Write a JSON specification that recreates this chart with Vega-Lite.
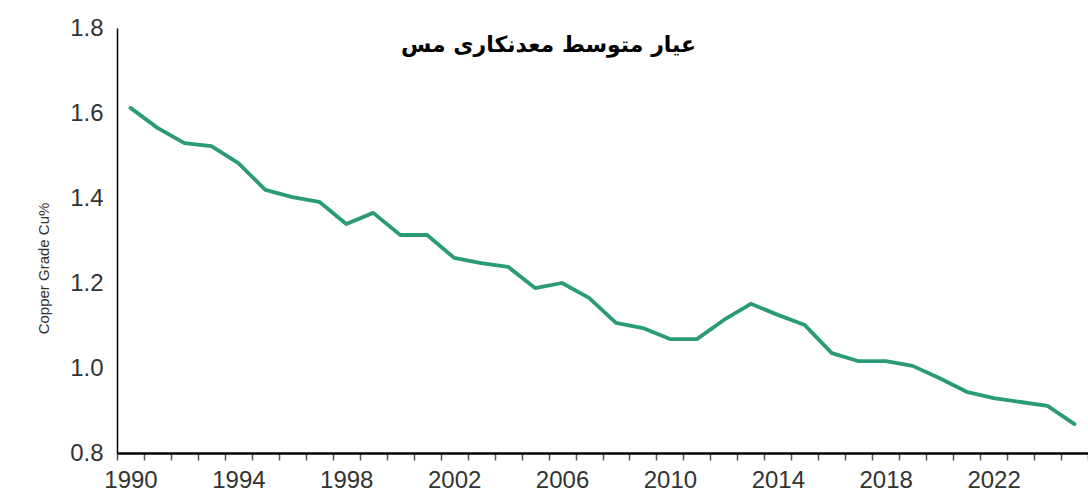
{
  "$schema": "https://vega.github.io/schema/vega-lite/v6.json",
  "width": 971,
  "height": 425,
  "autosize": {"type": "none"},
  "padding": {"left": 117, "top": 28, "right": 0, "bottom": 39},
  "background": "white",
  "title": {
    "text": "عیار متوسط معدنکاری مس",
    "font": "DejaVu Sans",
    "fontSize": 22,
    "fontWeight": "bold",
    "color": "#000000",
    "anchor": "middle",
    "frame": "group",
    "baseline": "alphabetic",
    "offset": -58,
    "dx": -54
  },
  "data": {
    "values": [
      {"year": 1990, "grade": 1.612},
      {"year": 1991, "grade": 1.565},
      {"year": 1992, "grade": 1.529},
      {"year": 1993, "grade": 1.522},
      {"year": 1994, "grade": 1.482},
      {"year": 1995, "grade": 1.419},
      {"year": 1996, "grade": 1.402},
      {"year": 1997, "grade": 1.391},
      {"year": 1998, "grade": 1.339},
      {"year": 1999, "grade": 1.365},
      {"year": 2000, "grade": 1.313},
      {"year": 2001, "grade": 1.313},
      {"year": 2002, "grade": 1.259},
      {"year": 2003, "grade": 1.247},
      {"year": 2004, "grade": 1.238},
      {"year": 2005, "grade": 1.188},
      {"year": 2006, "grade": 1.200},
      {"year": 2007, "grade": 1.165},
      {"year": 2008, "grade": 1.106},
      {"year": 2009, "grade": 1.094},
      {"year": 2010, "grade": 1.068},
      {"year": 2011, "grade": 1.068},
      {"year": 2012, "grade": 1.113},
      {"year": 2013, "grade": 1.151},
      {"year": 2014, "grade": 1.125},
      {"year": 2015, "grade": 1.101},
      {"year": 2016, "grade": 1.035},
      {"year": 2017, "grade": 1.016},
      {"year": 2018, "grade": 1.016},
      {"year": 2019, "grade": 1.005},
      {"year": 2020, "grade": 0.976},
      {"year": 2021, "grade": 0.944},
      {"year": 2022, "grade": 0.929},
      {"year": 2023, "grade": 0.920},
      {"year": 2024, "grade": 0.911},
      {"year": 2025, "grade": 0.868}
    ]
  },
  "mark": {"type": "line", "color": "#2a9a79", "strokeWidth": 3.8, "strokeJoin": "round", "strokeCap": "round"},
  "encoding": {
    "x": {
      "field": "year",
      "type": "ordinal",
      "bandPosition": 0.5,
      "scale": {"type": "band", "paddingInner": 0, "paddingOuter": 0},
      "axis": {
        "title": null,
        "labelAngle": 0,
        "labelExpr": "datum.value % 4 == 2 ? datum.label : ''",
        "labelOverlap": false,
        "labelFont": "Liberation Sans",
        "labelFontSize": 24,
        "labelColor": "#333333",
        "labelPadding": 8,
        "tickBand": "extent",
        "tickSize": 7,
        "tickWidth": 1.5,
        "tickColor": "#555555",
        "domainColor": "#000000",
        "domainWidth": 2.5,
        "grid": false
      }
    },
    "y": {
      "field": "grade",
      "type": "quantitative",
      "scale": {"domain": [0.8, 1.8], "nice": false, "zero": false},
      "axis": {
        "title": "Copper Grade Cu%",
        "titleFont": "Liberation Sans",
        "titleFontSize": 15,
        "titleFontWeight": "normal",
        "titleColor": "#333333",
        "titlePadding": 18,
        "titleY": 240,
        "values": [0.8, 1.0, 1.2, 1.4, 1.6, 1.8],
        "format": ".1f",
        "labelFont": "Liberation Sans",
        "labelFontSize": 24,
        "labelColor": "#333333",
        "labelPadding": 14,
        "ticks": false,
        "domainColor": "#000000",
        "domainWidth": 1.5,
        "grid": false
      }
    }
  },
  "config": {
    "view": {"stroke": null}
  }
}
